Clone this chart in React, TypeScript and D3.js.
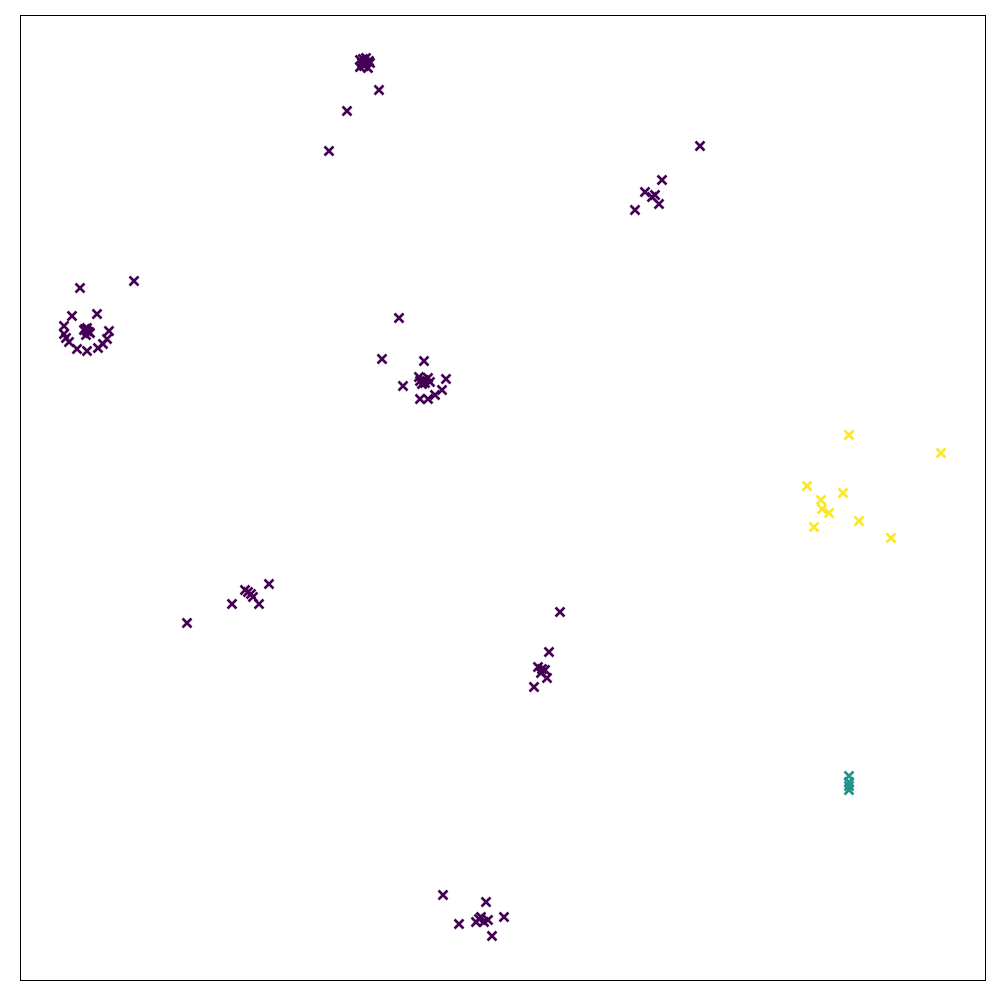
import { useEffect, useRef } from 'react';
import * as d3 from 'd3';

// point positions in plot units (x right, y up), domain 0..965
const xs0 = [340, 346, 350, 344, 340, 348, 345, 342, 343, 349, 359, 327, 309,
  680, 642, 625, 632, 635, 639, 615,
  114, 60, 52, 77, 67, 64, 70, 67, 66, 69, 65, 44, 44, 46, 49, 57, 67, 78, 83, 87, 89,
  379, 362, 404, 404, 399, 408, 402, 410, 405, 400, 426, 383, 422, 415, 400, 408,
  249, 212, 167, 228, 233, 239, 225, 231,
  540, 529, 518, 525, 521, 527, 514, 522,
  423, 466, 439, 459, 464, 456, 468, 461, 484, 472];
const ys0 = [920, 922, 917, 914, 913, 912, 918, 917, 921, 919, 890, 869, 829,
  834, 800, 788, 783, 785, 776, 770,
  699, 692, 664, 666, 649, 650, 647, 652, 645, 648, 651, 654, 646, 642, 638, 631, 629, 632, 636, 641, 649,
  662, 621, 619, 600, 603, 602, 596, 598, 597, 599, 601, 594, 590, 585, 581, 581,
  396, 376, 357, 388, 383, 376, 390, 386,
  368, 328, 313, 310, 307, 302, 293, 311,
  85, 78, 56, 61, 58, 58, 60, 63, 63, 44];

const xs1 = [829, 829, 829, 829];
const ys1 = [204, 198, 194, 190];

const xs2 = [829, 921, 787, 823, 801, 802, 809, 839, 794, 871];
const ys2 = [545, 527, 494, 487, 480, 471, 467, 459, 453, 442];

const classColors = ['#440154', '#21918c', '#fde725'];

export default function App() {
  const svgRef = useRef<SVGSVGElement>(null);

  useEffect(() => {
    const svg = d3.select(svgRef.current);
    svg.selectAll('*').remove();

    const x = d3.scaleLinear().domain([0, 965]).range([20, 985]);
    const y = d3.scaleLinear().domain([0, 965]).range([980, 15]);

    svg.append('rect')
      .attr('x', 20.5).attr('y', 15.5)
      .attr('width', 965).attr('height', 965)
      .attr('fill', 'white')
      .attr('stroke', 'black')
      .attr('stroke-width', 1);

    const groups = [[xs0, ys0], [xs1, ys1], [xs2, ys2]];
    const pts: { x: number; y: number; c: number }[] = [];
    groups.forEach(([gx, gy], c) => {
      gx.forEach((v, i) => pts.push({ x: v, y: gy[i], c }));
    });

    // 'x' markers
    const s = 4.5;
    svg.append('g')
      .selectAll('path')
      .data(pts)
      .enter()
      .append('path')
      .attr('d', d => {
        const cx = x(d.x), cy = y(d.y);
        return `M${cx - s},${cy - s}L${cx + s},${cy + s}M${cx - s},${cy + s}L${cx + s},${cy - s}`;
      })
      .attr('stroke', d => classColors[d.c])
      .attr('stroke-width', 2.6)
      .attr('fill', 'none');
  }, []);

  return (
    <div style={{ position: 'absolute', left: 0, top: 0 }}>
      <svg ref={svgRef} width={1000} height={1000} style={{ display: 'block' }}></svg>
    </div>
  );
}
